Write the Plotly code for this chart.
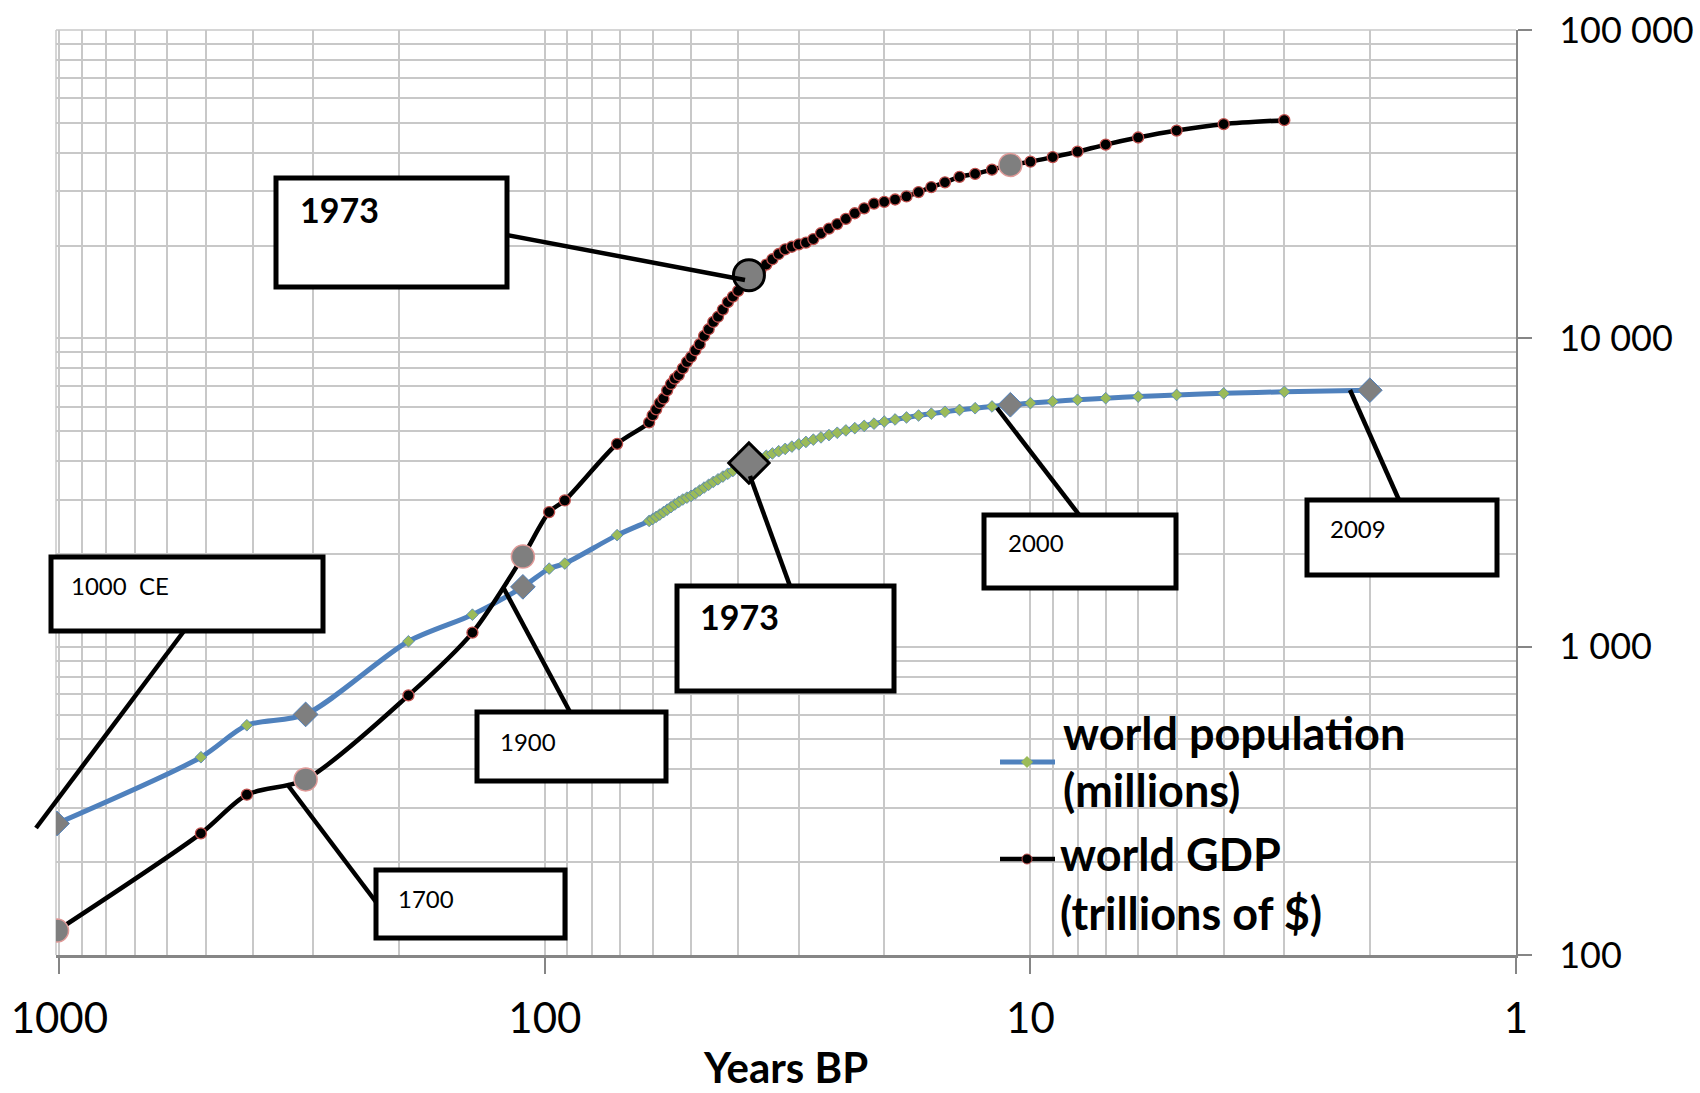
import math
import plotly.graph_objects as go

# Reference year used to turn calendar years into "years before present"
PRESENT = 2011

# World population, millions
pop_years = [1000, 1500, 1600, 1700, 1820, 1870, 1900, 1913, 1920, 1940] + list(range(1950, 2010))
pop_millions = [267, 438, 556, 603, 1041, 1270, 1563, 1791, 1860, 2300,
                2557, 2594, 2636, 2682, 2730, 2782, 2835, 2891, 2948, 3001,
                3043, 3084, 3140, 3210, 3281, 3350, 3421, 3490, 3562, 3637,
                3713, 3790, 3867, 3942, 4017, 4089, 4160, 4232, 4304, 4379,
                4455, 4533, 4613, 4693, 4773, 4855, 4940, 5027, 5114, 5201,
                5288, 5371, 5456, 5538, 5619, 5699, 5779, 5858, 5935, 6012,
                6089, 6165, 6242, 6319, 6396, 6473, 6552, 6630, 6709, 6788]

# World GDP
gdp_years = [1000, 1500, 1600, 1700, 1820, 1870, 1900, 1913, 1920, 1940] + list(range(1950, 2009))
gdp_values = [120, 248, 331, 371, 695, 1111, 1960, 2733, 2980, 4550,
              5336, 5630, 5880, 6170, 6380, 6780, 7110, 7400, 7600, 7990,
              8380, 8700, 9150, 9570, 10180, 10700, 11300, 11750, 12400, 13100,
              13650, 14250, 15000, 16020, 16380, 16560, 17350, 18050, 18770, 19440,
              19820, 20180, 20440, 20990, 21920, 22690, 23470, 24400, 25450, 26400,
              27360, 27720, 28200, 28850, 29800, 30950, 32050, 33400, 34150, 35250,
              36500, 37400, 38700, 40300, 42500, 44800, 47200, 49500, 51000]

pop_marked = [1000, 1700, 1900, 2000, 2009]
gdp_marked = [1000, 1700, 1900, 2000]
key_year = 1973

series_names = [["world population", "(millions)"], ["world GDP", "(trillions of $)"]]

x_ticks = [1000, 100, 10, 1]
x_tick_text = ["1000", "100", "10", "1"]
y_ticks = [100, 1000, 10000, 100000]
y_tick_text = ["100", "1 000", "10 000", "100 000"]
x_title = "Years BP"

# Callout labels: text, weight, box (x0, y0, x1, y1), text anchor, leader (from, to) in pixels
callouts = [
    dict(text="1973", bold=True, box=(276, 178, 507, 287), at=(298, 209), lead=((507, 235), (745, 280))),
    dict(text="1973", bold=True, box=(677, 586, 894, 691), at=(698, 616), lead=((790, 586), (750, 476))),
    dict(text="1000\u00a0 CE", bold=False, box=(51, 557, 323, 631), at=(69, 585), lead=((184, 631), (36, 828))),
    dict(text="1700", bold=False, box=(376, 870, 565, 938), at=(396, 898), lead=((376, 902), (287, 784))),
    dict(text="1900", bold=False, box=(477, 712, 666, 781), at=(498, 741), lead=((570, 712), (503, 587))),
    dict(text="2000", bold=False, box=(984, 515, 1176, 588), at=(1006, 542), lead=((1080, 516), (997, 408))),
    dict(text="2009", bold=False, box=(1307, 500, 1497, 575), at=(1328, 528), lead=((1399, 500), (1350, 390))),
]

W, H = 1700, 1093
PL, PR, PT, PB = 56, 1516, 30, 955


def px(x):
    return (x - PL) / (PR - PL)


def py(y):
    return (PB - y) / (PB - PT)


def bp(years):
    return [PRESENT - y for y in years]


def pick(years, values, keep):
    pairs = [(PRESENT - y, v) for y, v in zip(years, values) if y in keep]
    return [p[0] for p in pairs], [p[1] for p in pairs]


BLUE = "#4F81BD"
GREEN = "#9BBB59"
GRAY = "#7F7F7F"
RED = "#C0504D"
GRID = "#C8C8C8"
AXIS = "#868686"
FONT = "Lato, 'Open Sans', sans-serif"

fig = go.Figure()

fig.add_trace(go.Scatter(
    x=bp(pop_years), y=pop_millions, mode="lines+markers",
    line=dict(color=BLUE, width=5, shape="spline", smoothing=0.8),
    marker=dict(symbol="diamond", size=9, color=GREEN, line=dict(color=BLUE, width=0.8)),
    hoverinfo="skip"))
fig.add_trace(go.Scatter(
    x=bp(gdp_years), y=gdp_values, mode="lines+markers",
    line=dict(color="black", width=4.5, shape="spline", smoothing=0.8),
    marker=dict(symbol="circle", size=11, color="black", line=dict(color=RED, width=1.3)),
    hoverinfo="skip"))

xs, ys = pick(pop_years, pop_millions, pop_marked)
fig.add_trace(go.Scatter(x=xs, y=ys, mode="markers", hoverinfo="skip",
                         marker=dict(symbol="diamond", size=19, color=GRAY, line=dict(color=BLUE, width=1))))
xs, ys = pick(gdp_years, gdp_values, gdp_marked)
fig.add_trace(go.Scatter(x=xs, y=ys, mode="markers", hoverinfo="skip",
                         marker=dict(symbol="circle", size=23, color=GRAY, line=dict(color="#E09A98", width=1.5))))
xs, ys = pick(pop_years, pop_millions, [key_year])
fig.add_trace(go.Scatter(x=xs, y=ys, mode="markers", hoverinfo="skip",
                         marker=dict(symbol="diamond", size=31, color=GRAY, line=dict(color="black", width=3))))
xs, ys = pick(gdp_years, gdp_values, [key_year])
fig.add_trace(go.Scatter(x=xs, y=ys, mode="markers", hoverinfo="skip",
                         marker=dict(symbol="circle", size=31, color=GRAY, line=dict(color="black", width=3))))

x_minor = [m * 10 ** e for e in range(0, 3) for m in range(2, 10)]
y_minor = [m * 10 ** e for e in range(2, 5) for m in range(2, 10)]

fig.update_xaxes(
    type="log", range=[math.log10(1016), 0], automargin=False,
    tickmode="array", tickvals=x_ticks, ticktext=x_tick_text,
    ticks="outside", ticklen=16, tickwidth=2, tickcolor=AXIS,
    showline=True, linecolor=AXIS, linewidth=2.5,
    showgrid=True, gridcolor=GRID, gridwidth=1.5, zeroline=False,
    minor=dict(tickmode="array", tickvals=x_minor, showgrid=True, gridcolor=GRID, gridwidth=1.5, ticks=""),
    tickfont=dict(family=FONT, size=42, color="black"), ticklabelstandoff=9)
fig.update_yaxes(
    type="log", range=[2, 5], side="right", automargin=False,
    tickmode="array", tickvals=y_ticks, ticktext=y_tick_text,
    ticks="outside", ticklen=14, tickwidth=2, tickcolor=AXIS,
    showline=True, linecolor=AXIS, linewidth=2,
    showgrid=True, gridcolor=GRID, gridwidth=1.5, zeroline=False,
    minor=dict(tickmode="array", tickvals=y_minor, showgrid=True, gridcolor=GRID, gridwidth=1.5, ticks=""),
    tickfont=dict(family=FONT, size=36, color="black"), ticklabelstandoff=20)

shapes = []
annotations = []

# plot-area border on the left and top
shapes.append(dict(type="line", xref="paper", yref="paper", x0=0, x1=0, y0=0, y1=1,
                   line=dict(color=GRID, width=1.5), layer="below"))
shapes.append(dict(type="line", xref="paper", yref="paper", x0=0, x1=1, y0=1, y1=1,
                   line=dict(color=GRID, width=1.5), layer="below"))

# callout boxes with leader lines
for c in callouts:
    (a, b), (e, f) = c["lead"]
    shapes.append(dict(type="line", xref="paper", yref="paper",
                       x0=px(a), y0=py(b), x1=px(e), y1=py(f),
                       line=dict(color="black", width=4.5), layer="above"))
for c in callouts:
    x0, y0, x1, y1 = c["box"]
    shapes.append(dict(type="rect", xref="paper", yref="paper",
                       x0=px(x0), y0=py(y1), x1=px(x1), y1=py(y0),
                       fillcolor="white", line=dict(color="black", width=5), layer="above"))
    tx, ty = c["at"]
    annotations.append(dict(text=c["text"], xref="paper", yref="paper", x=px(tx), y=py(ty),
                            xanchor="left", yanchor="middle", showarrow=False,
                            font=dict(family=FONT, size=34 if c["bold"] else 24, color="black",
                                      weight="bold" if c["bold"] else "normal")))

# legend panel
shapes.append(dict(type="rect", xref="paper", yref="paper", x0=px(892), x1=px(1468), y0=py(937), y1=py(712),
                   fillcolor="white", line=dict(width=0), layer="between"))
shapes.append(dict(type="line", xref="paper", yref="paper", x0=px(1000), x1=px(1055), y0=py(762), y1=py(762),
                   line=dict(color=BLUE, width=5), layer="above"))
cx, cy, r = 1027, 762, 6
shapes.append(dict(type="path", xref="paper", yref="paper",
                   path=f"M {px(cx - r)} {py(cy)} L {px(cx)} {py(cy - r)} L {px(cx + r)} {py(cy)} L {px(cx)} {py(cy + r)} Z",
                   fillcolor=GREEN, line=dict(width=0), layer="above"))
shapes.append(dict(type="line", xref="paper", yref="paper", x0=px(1000), x1=px(1055), y0=py(859), y1=py(859),
                   line=dict(color="black", width=4.5), layer="above"))
cx, cy, r = 1027, 859, 5
shapes.append(dict(type="circle", xref="paper", yref="paper",
                   x0=px(cx - r), x1=px(cx + r), y0=py(cy + r), y1=py(cy - r),
                   fillcolor="black", line=dict(color=RED, width=1), layer="above"))

legend_rows = [(series_names[0][0], 1061, 733), (series_names[0][1], 1061, 790),
               (series_names[1][0], 1058, 854), (series_names[1][1], 1058, 913)]
for text, tx, ty in legend_rows:
    annotations.append(dict(text=text, xref="paper", yref="paper", x=px(tx), y=py(ty),
                            xanchor="left", yanchor="middle", showarrow=False,
                            font=dict(family=FONT, size=45, color="black", weight="bold")))

annotations.append(dict(text=x_title, xref="paper", yref="paper", x=px(785), y=py(1067),
                        xanchor="center", yanchor="middle", showarrow=False,
                        font=dict(family=FONT, size=42, color="black", weight="bold")))

fig.update_layout(
    width=W, height=H,
    margin=dict(l=PL, r=W - PR, t=PT, b=H - PB),
    paper_bgcolor="white", plot_bgcolor="white",
    showlegend=False, shapes=shapes, annotations=annotations,
    font=dict(family=FONT, color="black"))

fig.write_html("out.html")
